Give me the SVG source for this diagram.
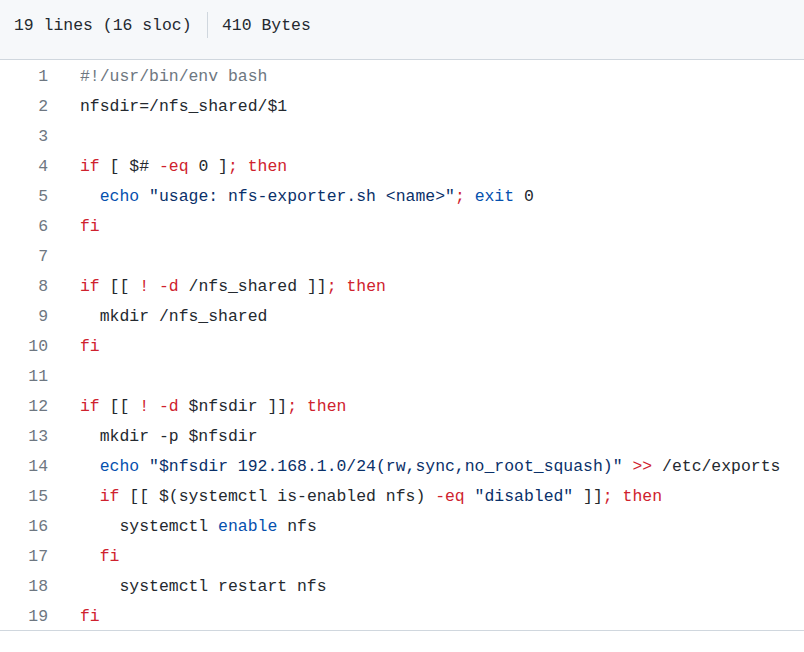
<svg xmlns="http://www.w3.org/2000/svg" width="804" height="652" viewBox="0 0 804 652">
<style>
text{font-family:"Liberation Mono","DejaVu Sans Mono",monospace;font-size:16.45px;fill:#24292f}
.ln{fill:#6e7781;text-anchor:end}
.c{fill:#6e7781}
.k{fill:#cf222e}
.b{fill:#0550ae}
.s{fill:#0a3069}
.code{white-space:pre}
</style>
<rect x="0" y="0" width="804" height="652" fill="#ffffff"/>
<g id="header">
<rect x="0" y="0" width="804" height="59" fill="#f6f8fa"/>
<line x1="0" y1="59.5" x2="804" y2="59.5" stroke="#d0d7de"/>
<text x="14" y="30">19 lines (16 sloc)</text>
<line x1="207.5" y1="12" x2="207.5" y2="38" stroke="#d0d7de"/>
<text x="222" y="30">410 Bytes</text>
</g>
<g id="line-numbers">
<text class="ln" x="48" y="81">1</text>
<text class="ln" x="48" y="111">2</text>
<text class="ln" x="48" y="141">3</text>
<text class="ln" x="48" y="171">4</text>
<text class="ln" x="48" y="201">5</text>
<text class="ln" x="48" y="231">6</text>
<text class="ln" x="48" y="261">7</text>
<text class="ln" x="48" y="291">8</text>
<text class="ln" x="48" y="321">9</text>
<text class="ln" x="48" y="351">10</text>
<text class="ln" x="48" y="381">11</text>
<text class="ln" x="48" y="411">12</text>
<text class="ln" x="48" y="441">13</text>
<text class="ln" x="48" y="471">14</text>
<text class="ln" x="48" y="501">15</text>
<text class="ln" x="48" y="531">16</text>
<text class="ln" x="48" y="561">17</text>
<text class="ln" x="48" y="591">18</text>
<text class="ln" x="48" y="621">19</text>
</g>
<g id="code" class="code">
<text x="80" y="81" xml:space="preserve"><tspan class="c">#!/usr/bin/env bash</tspan></text>
<text x="80" y="111" xml:space="preserve">nfsdir=/nfs_shared/$1</text>
<text x="80" y="171" xml:space="preserve"><tspan class="k">if</tspan> [ $# <tspan class="k">-eq</tspan> 0 ]<tspan class="k">;</tspan> <tspan class="k">then</tspan></text>
<text x="80" y="201" xml:space="preserve">  <tspan class="b">echo</tspan> <tspan class="s">"usage: nfs-exporter.sh &lt;name&gt;"</tspan><tspan class="k">;</tspan> <tspan class="b">exit</tspan> 0</text>
<text x="80" y="231" xml:space="preserve"><tspan class="k">fi</tspan></text>
<text x="80" y="291" xml:space="preserve"><tspan class="k">if</tspan> [[ <tspan class="k">!</tspan> <tspan class="k">-d</tspan> /nfs_shared ]]<tspan class="k">;</tspan> <tspan class="k">then</tspan></text>
<text x="80" y="321" xml:space="preserve">  mkdir /nfs_shared</text>
<text x="80" y="351" xml:space="preserve"><tspan class="k">fi</tspan></text>
<text x="80" y="411" xml:space="preserve"><tspan class="k">if</tspan> [[ <tspan class="k">!</tspan> <tspan class="k">-d</tspan> $nfsdir ]]<tspan class="k">;</tspan> <tspan class="k">then</tspan></text>
<text x="80" y="441" xml:space="preserve">  mkdir -p $nfsdir</text>
<text x="80" y="471" xml:space="preserve">  <tspan class="b">echo</tspan> <tspan class="s">"$nfsdir 192.168.1.0/24(rw,sync,no_root_squash)"</tspan> <tspan class="k">&gt;&gt;</tspan> /etc/exports</text>
<text x="80" y="501" xml:space="preserve">  <tspan class="k">if</tspan> [[ $(systemctl is-enabled nfs) <tspan class="k">-eq</tspan> <tspan class="s">"disabled"</tspan> ]]<tspan class="k">;</tspan> <tspan class="k">then</tspan></text>
<text x="80" y="531" xml:space="preserve">    systemctl <tspan class="b">enable</tspan> nfs</text>
<text x="80" y="561" xml:space="preserve">  <tspan class="k">fi</tspan></text>
<text x="80" y="591" xml:space="preserve">    systemctl restart nfs</text>
<text x="80" y="621" xml:space="preserve"><tspan class="k">fi</tspan></text>
</g>
<line x1="0" y1="630.5" x2="804" y2="630.5" stroke="#d0d7de"/>
</svg>
